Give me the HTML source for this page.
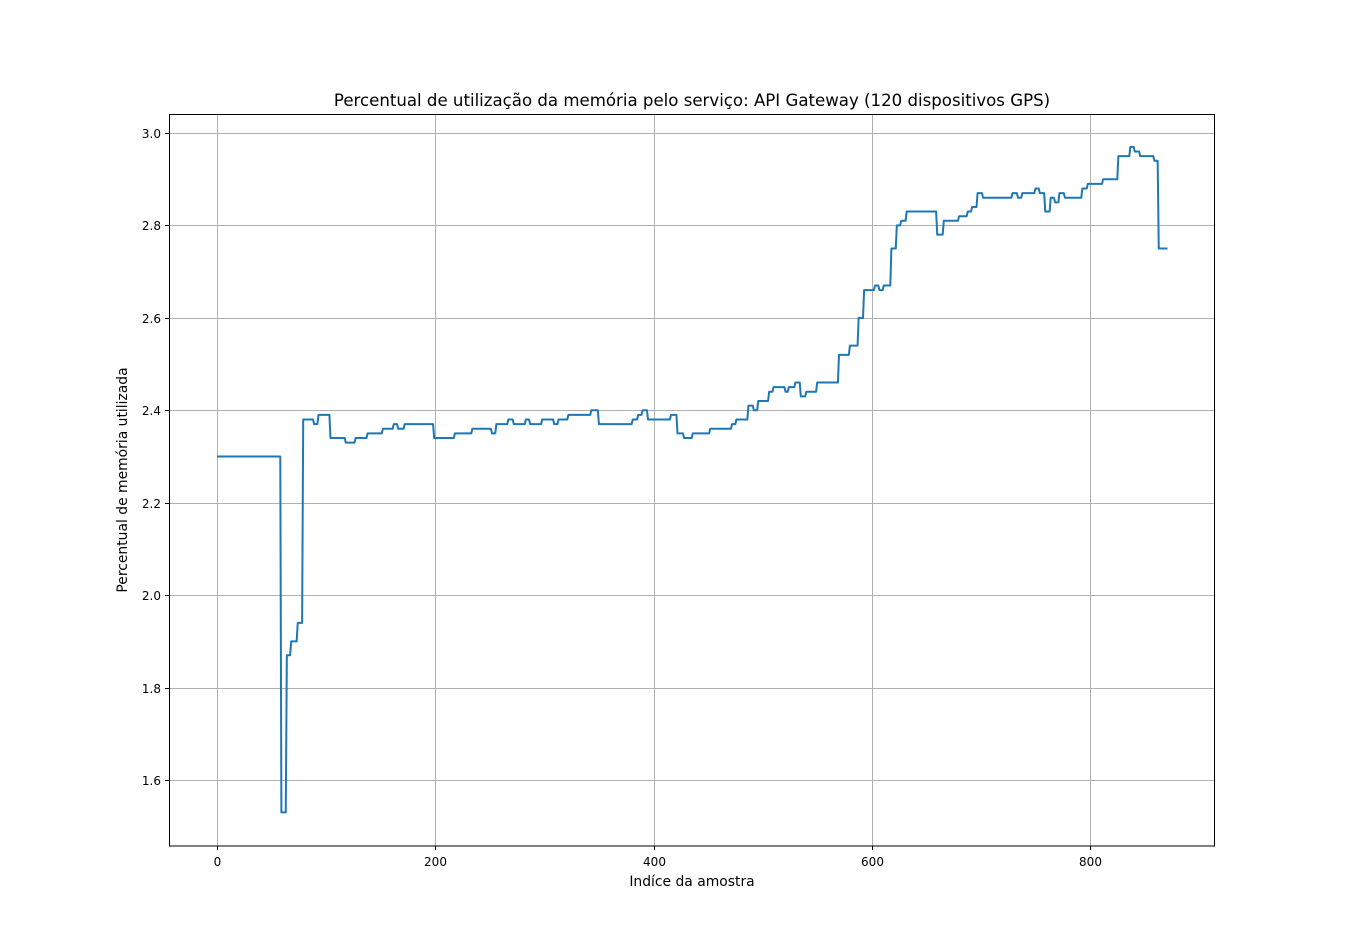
<!DOCTYPE html>
<html><head><meta charset="utf-8">
<style>
html,body{margin:0;padding:0;background:#fff;}
svg{display:block;font-family:"DejaVu Sans","Liberation Sans",sans-serif;}
</style></head>
<body>
<svg id="chart" width="1350" height="950" viewBox="0 0 1350 950" xmlns="http://www.w3.org/2000/svg">
<rect x="0" y="0" width="1350" height="950" fill="#fff"/>
<g id="grid"></g>
<g id="ticks"></g>
<path id="series" fill="none" stroke="#1f77b4" stroke-width="2" stroke-linejoin="round"/>
<rect x="169.5" y="114.5" width="1045" height="731.5" fill="none" stroke="#000" stroke-width="1"/>
<text x="692" y="106" font-size="16.6" text-anchor="middle">Percentual de utilização da memória pelo serviço: API Gateway (120 dispositivos GPS)</text>
<text x="692" y="886" font-size="13.9" text-anchor="middle">Indíce da amostra</text>
<text x="0" y="0" font-size="13.9" text-anchor="middle" transform="translate(127,480) rotate(-90)">Percentual de memória utilizada</text>
</svg>
<script>
const sampleIdx = [0,59,64,68,74,79,89,93,104,118,127,138,152,162,166,172,199,218,234,252,256,267,272,283,287,298,309,313,322,343,350,381,386,390,395,416,422,428,436,452,472,476,487,492,496,506,510,521,524,530,535,540,550,570,580,588,593,603,607,611,618,623,627,632,660,666,680,688,692,697,702,729,734,738,750,754,759,764,768,772,777,793,798,812,826,837,841,846,859,863];
const memValues = [2.30,1.53,1.87,1.90,1.94,2.38,2.37,2.39,2.34,2.33,2.34,2.35,2.36,2.37,2.36,2.37,2.34,2.35,2.36,2.35,2.37,2.38,2.37,2.38,2.37,2.38,2.37,2.38,2.39,2.40,2.37,2.38,2.39,2.40,2.38,2.39,2.35,2.34,2.35,2.36,2.37,2.38,2.41,2.40,2.42,2.44,2.45,2.44,2.45,2.46,2.43,2.44,2.46,2.52,2.54,2.60,2.66,2.67,2.66,2.67,2.75,2.80,2.81,2.83,2.78,2.81,2.82,2.83,2.84,2.87,2.86,2.87,2.86,2.87,2.88,2.87,2.83,2.86,2.85,2.87,2.86,2.88,2.89,2.90,2.95,2.97,2.96,2.95,2.94,2.75];
const lastIdx = 871;
const xTicks = [0,200,400,600,800];
const yTicks = [1.6,1.8,2.0,2.2,2.4,2.6,2.8,3.0];
const xTickLabels = ["0","200","400","600","800"];
const yTickLabels = ["1.6","1.8","2.0","2.2","2.4","2.6","2.8","3.0"];

const X = v => 217 + v * (1090 - 217) / 800;
const Y = v => 780 - (v - 1.6) * (780 - 133) / 1.4;
const NS = "http://www.w3.org/2000/svg";
const grid = document.getElementById('grid');
const ticks = document.getElementById('ticks');
function mk(tag, attrs, parent){const e=document.createElementNS(NS,tag);for(const k in attrs)e.setAttribute(k,attrs[k]);parent.appendChild(e);return e;}
xTicks.forEach((t,i)=>{
  const x = Math.round(X(t))+0.5;
  const g = mk('line',{x1:x,x2:x,y1:115,y2:846,stroke:'#b0b0b0','stroke-width':1},grid);
  
  
  mk('line',{x1:x,x2:x,y1:846,y2:850,stroke:'#000','stroke-width':1},ticks);
  const tx = mk('text',{x:x,y:866,'font-size':12,'text-anchor':'middle'},ticks);
  tx.textContent = xTickLabels[i];
  
  
});
yTicks.forEach((t,i)=>{
  const y = Math.round(Y(t))+0.5;
  const g = mk('line',{x1:170,x2:1215,y1:y,y2:y,stroke:'#b0b0b0','stroke-width':1},grid);
  
  
  mk('line',{x1:165,x2:169,y1:y,y2:y,stroke:'#000','stroke-width':1},ticks);
  const tx = mk('text',{x:161,y:y+4.5,'font-size':12,'text-anchor':'end'},ticks);
  tx.textContent = yTickLabels[i];
  
  
});
let d = '';
for(let i=0;i<sampleIdx.length;i++){
  const x0 = X(sampleIdx[i]);
  const end = i+1<sampleIdx.length ? sampleIdx[i+1]-1 : lastIdx;
  const y = Y(memValues[i]);
  d += (i===0?'M':'L') + x0.toFixed(2)+','+y.toFixed(2)+' L'+X(end).toFixed(2)+','+y.toFixed(2)+' ';
}
document.getElementById('series').setAttribute('d', d);
</script>
</body></html>
